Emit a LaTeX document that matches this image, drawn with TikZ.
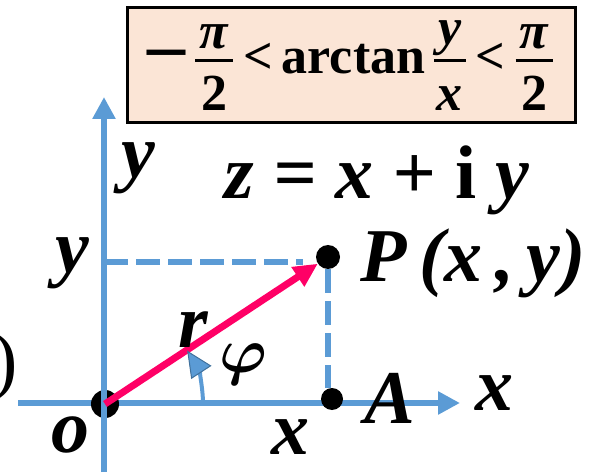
\documentclass[tikz,border=0pt]{standalone}
\usepackage{fix-cm}
\usepackage{amsmath}
\usepackage{fontspec}
\setmainfont{Liberation Serif}
\usetikzlibrary{arrows.meta}
\definecolor{axisblue}{HTML}{5B9BD5}
\definecolor{vecred}{HTML}{FF0066}
\definecolor{boxfill}{HTML}{FBE5D6}
\definecolor{arcedge}{HTML}{41719C}
\newcommand{\bi}[1]{\textbf{\textit{#1}}}
\newcommand{\wfrac}[2]{\genfrac{}{}{3pt}{1}{\mbox{\rule[-7pt]{0pt}{7pt}\hspace{4pt}#1\hspace{4pt}}}{\mbox{\rule{0pt}{46pt}#2}}}
\newcommand{\lt}{\hspace{9pt}\mbox{\textbf{<}}\hspace{9pt}}

\begin{document}
\begin{tikzpicture}[x=1pt, y=1pt,
  lbl/.style={inner sep=0pt, font=\fontsize{76}{80}\selectfont\bfseries\itshape},
  axis/.style={axisblue, line width=6pt, -{Triangle[length=22pt, width=22pt]}},
  proj/.style={axisblue, line width=6pt, dash pattern=on 24pt off 8pt},
  pt/.style={circle, fill=black, inner sep=0pt}]
  \useasboundingbox (0,0) rectangle (603,472);
  \node[draw, line width=3pt, fill=boxfill, minimum width=448pt, minimum height=115pt, font=\fontsize{52}{56}\selectfont\bfseries] (box) at (351,406.5) {$\raisebox{3pt}{\fontsize{76}{76}\selectfont\textbf{–}}\hspace{8pt}\wfrac{\bi{π}}{\textbf{2}}\lt\mbox{\textbf{arctan}}\hspace{8pt}\wfrac{\bi{y}}{\bi{x}}\lt\wfrac{\bi{π}}{\textbf{2}}$};
  \coordinate (xs) at (18,69);
  \coordinate (xe) at (460,69);
  \coordinate (ys) at (104,0);
  \coordinate (ye) at (104,375);
  \coordinate (Py) at (104,210);
  \coordinate (Pyend) at (303,210);
  \draw[axis] (xs) -- (xe);
  \node[pt, minimum size=28pt] (O) at (105,68) {};
  \draw[axis] (ys) -- (ye);
  \draw[proj] (Py) -- (Pyend);
  \node[pt, minimum size=24pt] (P) at (328,215) {};
  \node[pt, minimum size=22pt] (A) at (332,73) {};
  \draw[proj] (P) -- (P |- A.north);
  \draw[vecred, line width=7pt, -{Triangle[length=24pt, width=22pt]}] (O.center) -- (P);
  \draw[axisblue, line width=4pt, -{Triangle[length=26pt, width=24pt, fill=axisblue, color=arcedge, line width=1pt]}] ([xshift=98pt]O.center) arc[start angle=0, end angle=33, radius=98pt];
  \node[lbl] (ylab) at (138,304) {y};
  \node[lbl] (zeq) at (377,292) {z = x + {\upshape i} y};
  \node[lbl] (ylft) at (72,209) {y};
  \node[lbl, anchor=west] (Plab) at (360,209) {P\,(x\,,\,y)};
  \node[lbl] (rlab) at (193,142) {r};
  \node[lbl, font=\fontsize{64}{70}\selectfont] (philab) at (243,108) {$\boldsymbol{\varphi}$};
  \node[lbl] (olab) at (70,37) {o};
  \node[lbl] (xlab) at (290,35) {x};
  \node[lbl] (Alab) at (390,74) {A};
  \node[lbl] (xax) at (494,79) {x};
  \node[inner sep=0pt, font=\fontsize{76}{80}\selectfont] (paren) at (5,105) {)};
\end{tikzpicture}
\end{document}
